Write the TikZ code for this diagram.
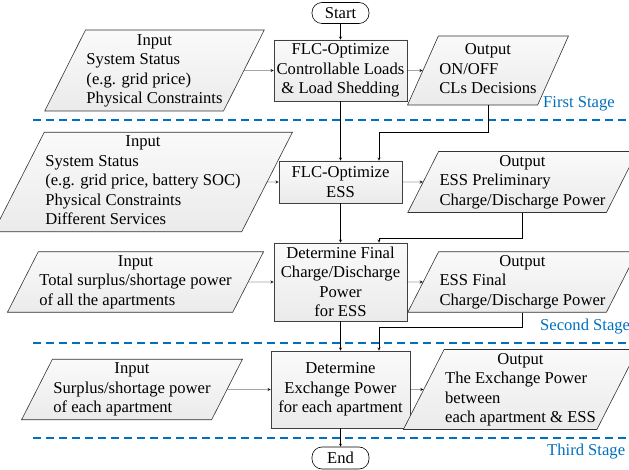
\documentclass[tikz,border=0pt]{standalone}
\usepackage{fontspec}
\setmainfont{Liberation Serif}
\usetikzlibrary{shapes.geometric,shadows}
\definecolor{stage_blue}{RGB}{0, 112, 192}
\tikzstyle{term}=[rectangle,rounded corners=10pt,draw=black,fill=white,
  line width=0.6pt,inner sep=1pt]
\tikzstyle{pb}=[rectangle,draw=black!75,top color=gray!4,bottom color=gray!16,
  line width=0.7pt,inner sep=2pt,align=center,
  drop shadow={opacity=0.35,shadow xshift=1pt,shadow yshift=-1pt}]
\tikzstyle{io}=[trapezium,trapezium left angle=63,trapezium right angle=117,
  trapezium stretches=true,draw=black!80,top color=gray!4,bottom color=gray!16,
  line width=0.6pt,inner sep=1pt]
\tikzstyle{sep}=[stage_blue,dashed,dash pattern=on 8pt off 5pt,line width=1.6pt]
\tikzstyle{lab}=[stage_blue,anchor=west,inner sep=0pt]

\begin{document}
\begin{tikzpicture}[x=1pt,y=-1pt,>=stealth,font=\fontsize{16.6}{19.5}\selectfont]
    \useasboundingbox (0,0) rectangle (629,470);
    % terminals
    \node [term,minimum width=57pt,minimum height=21pt] (start) at (340.5,13) {Start};
    \node [term,minimum width=57pt,minimum height=22pt] (end) at (340.5,458) {End};
    % process boxes
    \node [pb,minimum width=133pt,minimum height=61pt] (1p) at (340.5,70.5)
      {FLC-Optimize\\Controllable Loads\\\& Load Shedding};
    \node [pb,minimum width=123pt,minimum height=42pt] (2p) at (340.5,182)
      {FLC-Optimize\\ESS};
    \node [pb,minimum width=133pt,minimum height=78pt] (3p) at (340.5,282)
      {Determine Final\\Charge/Discharge\\Power\\for ESS};
    \node [pb,minimum width=139pt,minimum height=77pt] (4p) at (340.5,389.5)
      {Determine\\Exchange Power\\for each apartment};
    % inputs
    \node [io,minimum width=205pt,minimum height=81pt] (1i) at (154.5,70.5)
      {\begin{tabular}{@{}l@{}}\multicolumn{1}{@{}c@{}}{Input}\\System Status\\(e.g. grid price)\\Physical Constraints\end{tabular}};
    \node [io,minimum width=270pt,minimum height=95pt] (2i) at (143,182)
      {\begin{tabular}{@{}l@{}}\multicolumn{1}{@{}c@{}}{Input}\\System Status\\(e.g. grid price, battery SOC)\\Physical Constraints\\Different Services\end{tabular}};
    \node [io,minimum width=233pt,minimum height=57pt] (3i) at (135.5,282)
      {\begin{tabular}{@{}l@{}}\multicolumn{1}{@{}c@{}}{Input}\\Total surplus/shortage power\\of all the apartments\end{tabular}};
    \node [io,minimum width=214pt,minimum height=55pt] (4i) at (132,389.5)
      {\begin{tabular}{@{}l@{}}\multicolumn{1}{@{}c@{}}{Input}\\Surplus/shortage power\\of each apartment\end{tabular}};
    % outputs
    \node [io,minimum width=154pt,minimum height=69pt] (1o) at (488,70.5)
      {\begin{tabular}{@{}l@{}}\multicolumn{1}{@{}c@{}}{Output}\\ON/OFF\\CLs Decisions\end{tabular}};
    \node [io,minimum width=211pt,minimum height=61pt] (2o) at (522.5,182)
      {\begin{tabular}{@{}l@{}}\multicolumn{1}{@{}c@{}}{Output}\\ESS Preliminary\\Charge/Discharge Power\end{tabular}};
    \node [io,minimum width=211pt,minimum height=60pt] (3o) at (522.5,282)
      {\begin{tabular}{@{}l@{}}\multicolumn{1}{@{}c@{}}{Output}\\ESS Final\\Charge/Discharge Power\end{tabular}};
    \node [io,minimum width=215pt,minimum height=79pt] (4o) at (520.5,389.5)
      {\begin{tabular}{@{}l@{}}\multicolumn{1}{@{}c@{}}{Output}\\The Exchange Power\\between\\each apartment \& ESS\end{tabular}};
    % stage separators
    \coordinate (1sl) at (33,120);
    \coordinate (1sr) at (629,120);
    \coordinate (2sl) at (33,343);
    \coordinate (2sr) at (629,343);
    \coordinate (3sl) at (33,438);
    \coordinate (3sr) at (629,438);
    \draw [sep] (1sl) -- (1sr);
    \draw [sep] (2sl) -- (2sr);
    \draw [sep] (3sl) -- (3sr);
    \node [lab] (1lab) at (543,104) {First Stage};
    \node [lab] (2lab) at (540,327) {Second Stage};
    \node [lab] (3lab) at (547,452) {Third Stage};
    % feedback bends
    \coordinate (1j) at (379,132);
    \coordinate (2j) at (379,238);
    \coordinate (3j) at (379,327);
    \draw [->] (start) to (1p);
    \draw [->] (1i.east) to (1p.west);
    \draw [->] (1p.east) to (1o.west);
    \draw [->] (1p) to (2p);
    \draw [->] (1o.south) |- (1j) -- (1j |- 2p.north);
    \draw [->] (2i.east) to (2p.west);
    \draw [->] (2p.east) to (2o.west);
    \draw [->] (2p) to (3p);
    \draw [->] (2o.south) |- (2j) -- (2j |- 3p.north);
    \draw [->] (3i.east) to (3p.west);
    \draw [->] (3p.east) to (3o.west);
    \draw [->] (3p) to (4p);
    \draw [->] (3o.south) |- (3j) -- (3j |- 4p.north);
    \draw [->] (4i.east) to (4p.west);
    \draw [->] (4p.east) to (4o.west);
    \draw [->] (4p) to (end);
  \end{tikzpicture}
\end{document}
